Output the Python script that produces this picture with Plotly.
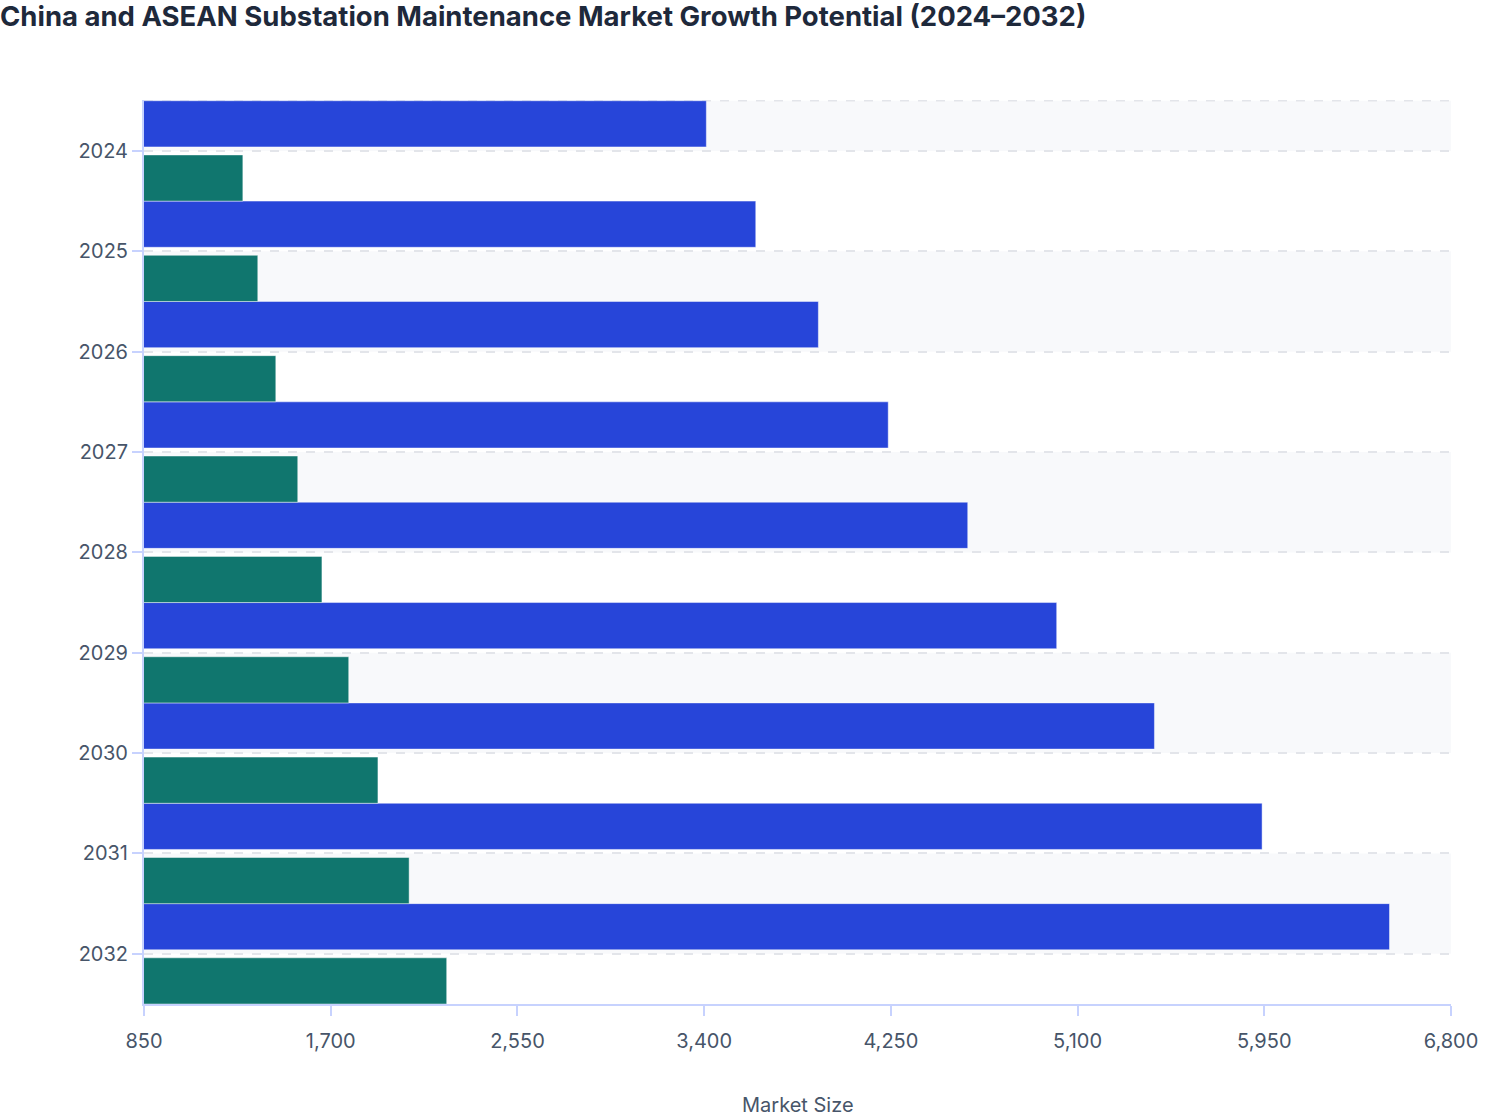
import plotly.graph_objects as go

years = ["2024", "2025", "2026", "2027", "2028", "2029", "2030", "2031", "2032"]
china = [3410, 3635, 3920, 4238, 4600, 5005, 5450, 5940, 6520]
asean = [1300, 1368, 1450, 1550, 1660, 1782, 1915, 2057, 2228]
x_ticks = [850, 1700, 2550, 3400, 4250, 5100, 5950, 6800]

title_text = "China and ASEAN Substation Maintenance Market Growth Potential (2024–2032)"
font_family = "Inter, 'Noto Sans', sans-serif"

fig = go.Figure()
fig.add_trace(go.Bar(
    name="China", y=years, x=china, orientation="h",
    marker=dict(color="#2745D9", line=dict(color="rgba(255,255,255,0.45)", width=1)),
    width=0.46, offset=-0.5,
))
fig.add_trace(go.Bar(
    name="ASEAN", y=years, x=asean, orientation="h",
    marker=dict(color="#10766E", line=dict(color="rgba(255,255,255,0.45)", width=1)),
    width=0.46, offset=0.04,
))

# alternating background bands
shapes = []
band_edges = [(-0.5, 0), (1, 2), (3, 4), (5, 6), (7, 8)]
for y0, y1 in band_edges:
    shapes.append(dict(type="rect", xref="paper", yref="y", x0=0, x1=1, y0=y0, y1=y1,
                       fillcolor="#F8F9FB", line=dict(width=0), layer="below"))
shapes.append(dict(type="line", xref="paper", yref="y", x0=0, x1=1, y0=-0.5, y1=-0.5,
                   line=dict(color="#E3E5EA", width=1.5, dash="dash"), layer="below"))

fig.update_layout(
    width=1508, height=1120,
    margin=dict(l=144, r=57, t=100, b=116),
    paper_bgcolor="white", plot_bgcolor="white",
    barmode="overlay",
    showlegend=False,
    shapes=shapes,
    font=dict(family=font_family, color="#475569", size=20),
    title=dict(text="<b>" + title_text + "</b>", x=0.0, xref="container", xanchor="left",
               y=0.985, yref="container", yanchor="middle",
               font=dict(family=font_family, size=27.5, color="#1E293B")),
)
fig.update_xaxes(
    range=[850, 6800], tickvals=x_ticks, tickformat=",",
    showgrid=False, zeroline=False,
    showline=True, linecolor="#C7D2FE", linewidth=2,
    ticks="outside", ticklen=10, tickwidth=2, tickcolor="#C7D2FE",
    ticklabelstandoff=8,
    tickfont=dict(size=20, color="#475569"),
)
fig.update_yaxes(
    autorange="reversed", type="category",
    showgrid=True, gridcolor="#E3E5EA", griddash="dash", gridwidth=1.5,
    showline=True, linecolor="#C7D2FE", linewidth=2,
    ticks="outside", ticklen=10, tickwidth=2, tickcolor="#C7D2FE",
    tickfont=dict(size=20, color="#475569"),
)
fig.add_annotation(text="Market Size", xref="paper", yref="paper", x=0.5, y=-0.1117,
                   xanchor="center", yanchor="middle", showarrow=False,
                   font=dict(family=font_family, size=20, color="#475569"))

fig.write_html("out.html", config={"displayModeBar": False},
               post_script="document.body.style.margin='0';")
